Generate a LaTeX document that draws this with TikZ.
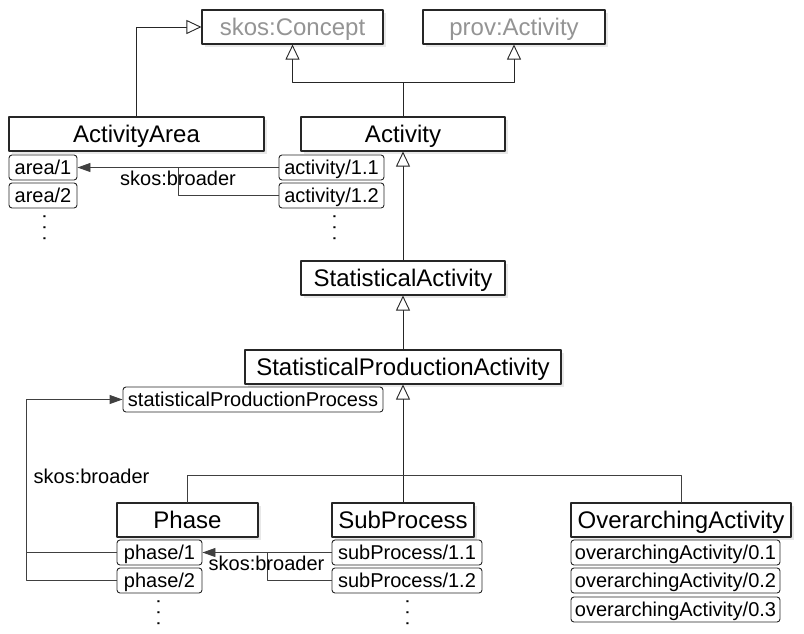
\documentclass[tikz,border=0pt]{standalone}
\usepackage{fontspec}
\setmainfont{Liberation Sans}
\usetikzlibrary{arrows.meta,shadows}

\begin{document}
\begin{tikzpicture}[x=1pt, y=-1pt, line cap=round, line join=round,
    cls/.style={draw=black!85, line width=1.1pt, fill=white, minimum height=34pt, inner sep=0pt,
      text height=17pt, text depth=0pt, font=\fontsize{24}{26}\selectfont,
      drop shadow={shadow xshift=2.5pt, shadow yshift=-2.5pt, fill=black!18}},
    ext/.style={cls, text=black!42},
    inst/.style={draw=black!85, line width=0.9pt, rounded corners=3pt, fill=white,
      minimum height=25pt, inner sep=0pt, text height=14.3pt, text depth=0pt,
      font=\fontsize{20}{22}\selectfont},
    more/.style={rotate=90, anchor=base, inner sep=0pt, font=\fontsize{20}{22}\selectfont},
    isa/.style={draw=black!85, line width=0.9pt, -{Triangle[open, length=15pt, width=14pt, fill=white]}},
    link/.style={draw=black!75, line width=0.9pt},
    broader/.style={link, -{Triangle[length=13pt, width=9pt]}},
    lbl/.style={font=\fontsize{20}{22}\selectfont, inner sep=0pt, text height=14.3pt, text depth=0pt}]
    \useasboundingbox (0,0) rectangle (804,633);
    % external classes
    \node[ext, minimum width=181pt] (concept) at (292.5,27) {skos:Concept};
    \node[ext, minimum width=182pt] (prov) at (514,27) {prov:Activity};
    % top classes and their members
    \node[cls, minimum width=255pt] (area) at (136.5,134) {ActivityArea};
    \node[cls, minimum width=204pt] (act) at (403,134) {Activity};
    \node[inst, minimum width=68pt] (area1) at (43,167.5) {area/1};
    \node[inst, minimum width=68pt] (area2) at (43,195.5) {area/2};
    \node[more] (areadots) at (45.5,228) {.\ .\ .};
    \node[inst, minimum width=105pt] (act11) at (331.5,167.5) {activity/1.1};
    \node[inst, minimum width=105pt] (act12) at (331.5,195.5) {activity/1.2};
    \node[more] (actdots) at (335.5,228) {.\ .\ .};
    % statistical activities
    \node[cls, minimum width=204pt] (stat) at (403,278) {StatisticalActivity};
    \node[cls, minimum width=316pt] (prod) at (403,367) {StatisticalProductionActivity};
    \node[inst, minimum width=260pt] (proc) at (253,399.5) {statisticalProductionProcess};
    % lower classes and their members
    \node[cls, minimum width=141pt] (phase) at (187.5,520) {Phase};
    \node[cls, minimum width=142pt] (sub) at (403,520) {SubProcess};
    \node[cls, minimum width=220pt] (over) at (681,520) {OverarchingActivity};
    \node[inst, minimum width=85pt] (ph1) at (159.5,552.5) {phase/1};
    \node[inst, minimum width=85pt] (ph2) at (159.5,580.5) {phase/2};
    \node[more] (phdots) at (159.5,613) {.\ .\ .};
    \node[inst, minimum width=150pt] (sub11) at (407,552.5) {subProcess/1.1};
    \node[inst, minimum width=150pt] (sub12) at (407,580.5) {subProcess/1.2};
    \node[more] (subdots) at (408.5,613) {.\ .\ .};
    \node[inst, minimum width=209pt] (over1) at (675.5,552.5) {overarchingActivity/0.1};
    \node[inst, minimum width=209pt] (over2) at (675.5,580.5) {overarchingActivity/0.2};
    \node[inst, minimum width=209pt] (over3) at (675.5,609.5) {overarchingActivity/0.3};
    % subclass links
    \coordinate (actjoin) at (403,82);
    \coordinate (prodjoin) at (403,475);
    \draw[isa] (area.north) |- (concept.west);
    \draw[isa] (act.north) -- (actjoin) -| (concept.south);
    \draw[isa] (actjoin) -| (prov.south);
    \draw[isa] (stat.north) -- (act.south);
    \draw[isa] (prod.north) -- (stat.south);
    \draw[isa] (sub.north) -- (prod.south);
    \draw[link] (phase.north) |- (prodjoin);
    \draw[link] (over.north) |- (prodjoin);
    % skos:broader links
    \coordinate (actbend) at (178,167.5);
    \draw[broader] (act11.west) -- (area1.east);
    \draw[link] (act12.west) -| (actbend);
    \node[lbl] (actlbl) at (178,178.5) {skos:broader};
    \coordinate (subbend) at (267,552.5);
    \draw[broader] (sub11.west) -- (ph1.east);
    \draw[link] (sub12.west) -| (subbend);
    \node[lbl] (sublbl) at (266.5,563.5) {skos:broader};
    \coordinate (phbend) at (26,552.5);
    \draw[broader] (ph1.west) -- (phbend) |- (proc.west);
    \draw[link] (ph2.west) -| (phbend);
    \node[lbl] (phlbl) at (91.5,476) {skos:broader};
  \end{tikzpicture}
\end{document}
